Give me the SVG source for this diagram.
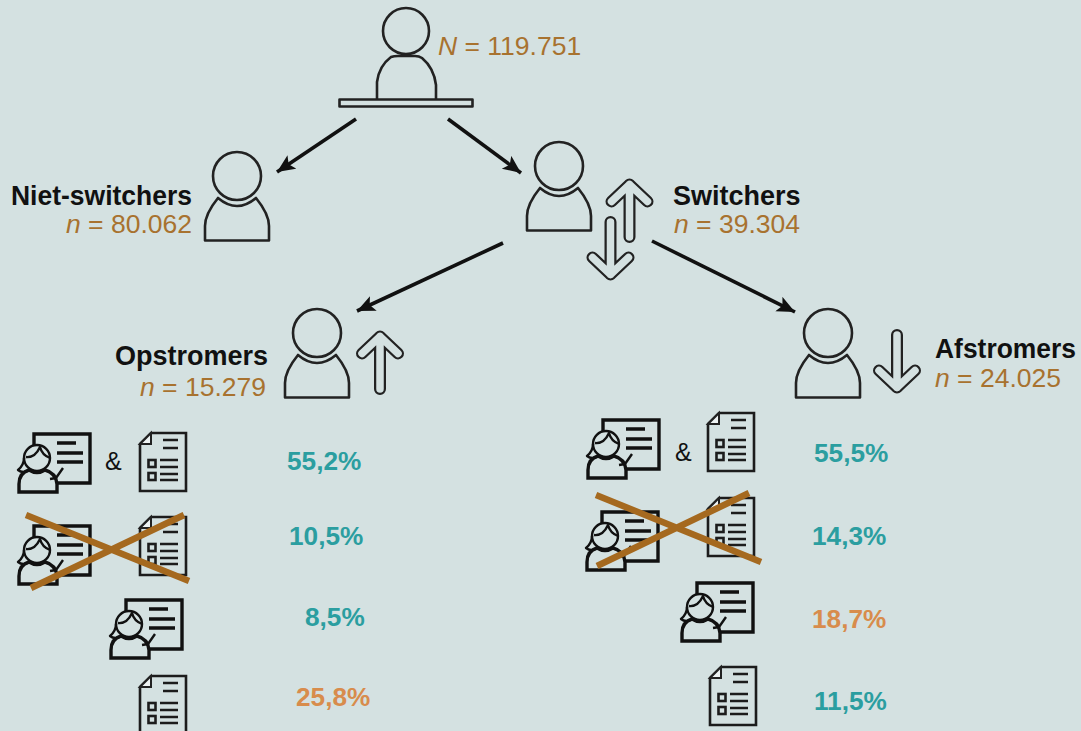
<svg xmlns="http://www.w3.org/2000/svg" width="1081" height="731" viewBox="0 0 1081 731">
<style>
text{font-family:"Liberation Sans",Arial,sans-serif}
.name{font-size:27px;font-weight:700;fill:#111}
.cnt{font-size:26.500px;fill:#a8722f}
.cnt tspan{font-style:italic}
.pct{font-size:26.200px;font-weight:700}
.teal{fill:#2b9ea0}
.org{fill:#d88c4c}
.amp{font-size:25px;fill:#111}
.ln{fill:none;stroke:#222;stroke-width:2.600;stroke-linejoin:round}
.ic{fill:none;stroke:#111;stroke-width:3.400;stroke-linejoin:miter}
.hair{fill:none;stroke:#111;stroke-width:2.400;stroke-linejoin:round}
.thin{fill:none;stroke:#1c1c1c;stroke-width:2.600}
.conn{stroke:#111;stroke-width:3.600;fill:none;marker-end:url(#ah)}
.x{stroke:#a5691f;stroke-width:6.500;fill:none}
</style>
<defs>
<marker id="ah" markerUnits="userSpaceOnUse" markerWidth="20" markerHeight="18" refX="18" refY="8" orient="auto"><path d="M0,0 L18,8 L0,16 L4,8 Z" fill="#111"/></marker>
<g id="person"><circle cx="0" cy="0" r="24" class="ln"/><path class="ln" d="M-32,64.500 V50 Q-32,38 -19,22 Q0,38 19,22 Q32,38 32,50 V64.500 Z"/></g>
<path id="arrowshape" d="M0,59 V6.500 M-18,23.500 L0,6.500 L18,23.500"/>
<g id="up"><use href="#arrowshape" fill="none" stroke="#222" stroke-width="12" stroke-linecap="round" stroke-linejoin="round"/><use href="#arrowshape" fill="none" stroke="#d4e1e1" stroke-width="7.500" stroke-linecap="round" stroke-linejoin="round"/></g>
<g id="teacher">
<path class="ic" d="M16,12 V0 H72 V49 H39"/>
<path class="ic" d="M39,9 H58 M39,19 H65 M39,28 H65"/>
<path class="hair" d="M32,45 L38,44 L45,34"/>
<circle class="hair" cx="19" cy="24" r="13"/>
<path class="hair" d="M8,23 Q17,24 22,13 Q24,21 32,24 M6,24 Q6,31 0,36 Q5,40 11,36"/>
<path class="ic" d="M1,58 V50 Q1,39 11,36 Q19,41 27,36 Q38,39 39,50 V58 Z"/>
</g>
<g id="doc">
<path class="thin" d="M0,11 L11,0 H46 V58 H0 Z"/>
<path d="M0,11 H11 V0 Z" fill="#eef3f3" stroke="#222" stroke-width="2"/>
<path class="thin" d="M23,7 H38 M23,15 H38 M20,27 H38 M20,34 H38 M20,41 H38 M20,47 H38"/>
<rect class="thin" x="8.500" y="27" width="7" height="7"/><rect class="thin" x="8.500" y="40" width="7" height="7"/>
</g>
</defs>
<rect width="1081" height="731" fill="#d4e1e1"/>
<g id="connectors">
<line class="conn" x1="356" y1="119" x2="277" y2="172"/>
<line class="conn" x1="448" y1="119" x2="521" y2="173"/>
<line class="conn" x1="503" y1="243" x2="357" y2="311"/>
<line class="conn" x1="652" y1="241" x2="795" y2="312"/>
</g>
<g id="total">
<circle cx="406" cy="31" r="23" class="ln"/>
<path class="ln" d="M377,99 V82 Q379,66 391,57 Q394,56 398,56 H415 Q419,56 422,58 Q434,68 436,85 V99"/>
<rect x="339.500" y="99.500" width="133" height="7" class="ln"/>
<text class="cnt" x="438" y="55"><tspan>N</tspan> = 119.751</text>
</g>
<g id="niet-switchers">
<use href="#person" x="237" y="176"/>
<text class="name" x="192" y="205" text-anchor="end" textLength="181" lengthAdjust="spacingAndGlyphs">Niet-switchers</text>
<text class="cnt" x="192" y="233" text-anchor="end"><tspan>n</tspan> = 80.062</text>
</g>
<g id="switchers">
<use href="#person" x="559" y="166"/>
<use href="#up" x="629.500" y="178"/>
<use href="#up" transform="translate(610.500,281) scale(1,-1)"/>
<text class="name" x="673" y="205">Switchers</text>
<text class="cnt" x="674" y="233"><tspan>n</tspan> = 39.304</text>
</g>
<g id="opstromers">
<use href="#person" x="317" y="333"/>
<use href="#up" x="380" y="330"/>
<text class="name" x="268" y="365" text-anchor="end">Opstromers</text>
<text class="cnt" x="266" y="396" text-anchor="end"><tspan>n</tspan> = 15.279</text>
</g>
<g id="afstromers">
<use href="#person" x="828" y="333"/>
<use href="#up" transform="translate(897,394) scale(1,-1)"/>
<text class="name" x="935" y="358" textLength="141" lengthAdjust="spacingAndGlyphs">Afstromers</text>
<text class="cnt" x="935" y="387"><tspan>n</tspan> = 24.025</text>
</g>
<g id="left-both">
<use href="#teacher" x="18" y="434"/>
<text class="amp" x="105" y="470">&amp;</text>
<use href="#doc" x="140" y="433"/>
<text class="pct teal" x="287" y="470">55,2%</text>
</g>
<g id="left-neither">
<use href="#teacher" x="18" y="526"/>
<use href="#doc" x="140" y="517"/>
<path class="x" d="M26,515 L189,581 M31,588 L184,515"/>
<text class="pct teal" x="289" y="545">10,5%</text>
</g>
<g id="left-teacher">
<use href="#teacher" x="110" y="600"/>
<text class="pct teal" x="305" y="626">8,5%</text>
</g>
<g id="left-doc">
<use href="#doc" x="140" y="676"/>
<text class="pct org" x="296" y="706">25,8%</text>
</g>
<g id="right-both">
<use href="#teacher" x="587" y="420"/>
<text class="amp" x="675" y="461">&amp;</text>
<use href="#doc" x="708" y="413"/>
<text class="pct teal" x="814" y="462">55,5%</text>
</g>
<g id="right-neither">
<use href="#teacher" x="586" y="512"/>
<use href="#doc" x="708" y="498"/>
<path class="x" d="M596,495 L761,562 M597,566 L749,493"/>
<text class="pct teal" x="812" y="545">14,3%</text>
</g>
<g id="right-teacher">
<use href="#teacher" x="681" y="583"/>
<text class="pct org" x="812" y="628">18,7%</text>
</g>
<g id="right-doc">
<use href="#doc" x="710" y="667"/>
<text class="pct teal" x="814" y="710">11,5%</text>
</g>
</svg>
